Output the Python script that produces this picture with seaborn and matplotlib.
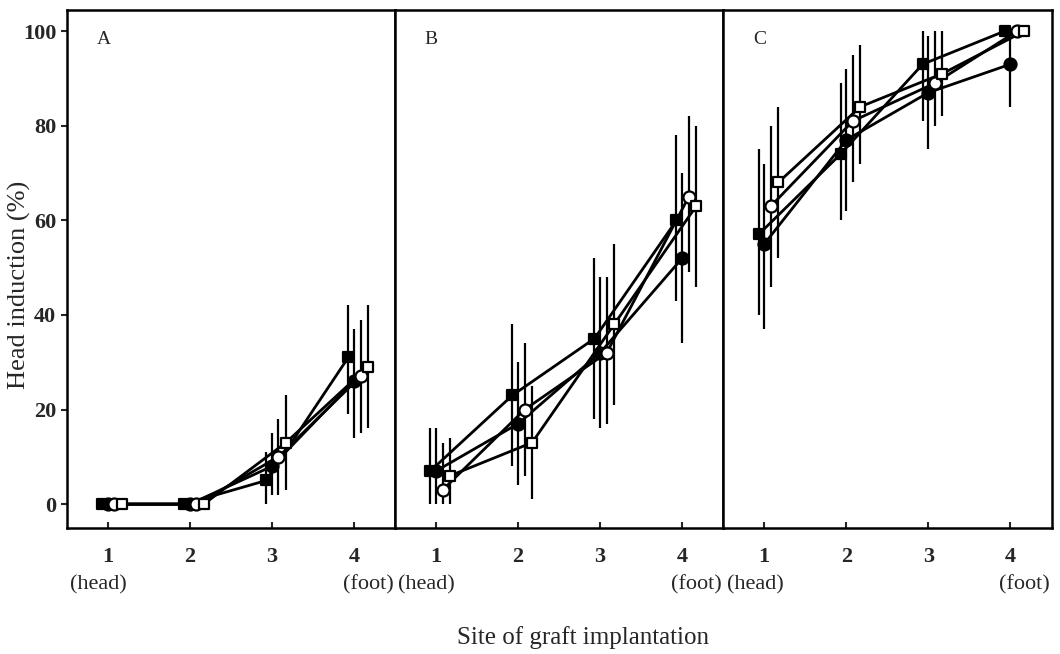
import numpy as np
import pandas as pd
import matplotlib
matplotlib.use('Agg')
import matplotlib.pyplot as plt
import seaborn as sns

# ── DATA ───────────────────────────────────────────────────────
sites = [1, 2, 3, 4]
panels = ['A', 'B', 'C']
series = ['filled_square', 'filled_circle', 'open_circle', 'open_square']

# panel A
a_fs = [0, 0, 5, 31]
a_fs_lo = [0, 0, 0, 19]
a_fs_hi = [0, 0, 11, 42]
a_fc = [0, 0, 8, 26]
a_fc_lo = [0, 0, 2, 14]
a_fc_hi = [0, 0, 15, 37]
a_oc = [0, 0, 10, 27]
a_oc_lo = [0, 0, 2, 15]
a_oc_hi = [0, 0, 18, 39]
a_os = [0, 0, 13, 29]
a_os_lo = [0, 0, 3, 16]
a_os_hi = [0, 0, 23, 42]

# panel B
b_fs = [7, 23, 35, 60]
b_fs_lo = [0, 8, 18, 43]
b_fs_hi = [16, 38, 52, 78]
b_fc = [7, 17, 32, 52]
b_fc_lo = [0, 4, 16, 34]
b_fc_hi = [16, 30, 48, 70]
b_oc = [3, 20, 32, 65]
b_oc_lo = [0, 6, 17, 49]
b_oc_hi = [13, 34, 48, 82]
b_os = [6, 13, 38, 63]
b_os_lo = [0, 1, 21, 46]
b_os_hi = [14, 25, 55, 80]

# panel C
c_fs = [57, 74, 93, 100]
c_fs_lo = [40, 60, 81, 100]
c_fs_hi = [75, 89, 100, 100]
c_fc = [55, 77, 87, 93]
c_fc_lo = [37, 62, 75, 84]
c_fc_hi = [72, 92, 99, 100]
c_oc = [63, 81, 89, 100]
c_oc_lo = [46, 68, 80, 100]
c_oc_hi = [80, 95, 100, 100]
c_os = [68, 84, 91, 100]
c_os_lo = [52, 72, 82, 100]
c_os_hi = [84, 97, 100, 100]

raw = {
    'A': [(a_fs, a_fs_lo, a_fs_hi), (a_fc, a_fc_lo, a_fc_hi),
          (a_oc, a_oc_lo, a_oc_hi), (a_os, a_os_lo, a_os_hi)],
    'B': [(b_fs, b_fs_lo, b_fs_hi), (b_fc, b_fc_lo, b_fc_hi),
          (b_oc, b_oc_lo, b_oc_hi), (b_os, b_os_lo, b_os_hi)],
    'C': [(c_fs, c_fs_lo, c_fs_hi), (c_fc, c_fc_lo, c_fc_hi),
          (c_oc, c_oc_lo, c_oc_hi), (c_os, c_os_lo, c_os_hi)],
}

rows = []
for p in panels:
    for name, (vals, lo, hi) in zip(series, raw[p]):
        for s, v, l, h in zip(sites, vals, lo, hi):
            rows.append({'panel': p, 'series': name, 'site': s,
                         'value': v, 'lo': l, 'hi': h})
df = pd.DataFrame(rows)

# ── STYLE ──────────────────────────────────────────────────────
sns.set_style('ticks')
plt.rcParams['font.family'] = ['Liberation Serif', 'DejaVu Serif']

offset = {'filled_square': -0.07, 'filled_circle': 0.0,
          'open_circle': 0.08, 'open_square': 0.17}
marker = {'filled_square': 's', 'filled_circle': 'o',
          'open_circle': 'o', 'open_square': 's'}
face = {'filled_square': 'black', 'filled_circle': 'black',
        'open_circle': 'white', 'open_square': 'white'}
df['xpos'] = df['site'] + df['series'].map(offset)

fig, axes = plt.subplots(1, 3, sharey=True, figsize=(10.6, 6.54), dpi=100)
fig.subplots_adjust(left=0.063, right=0.992, top=0.985, bottom=0.193, wspace=0)

for ax, p in zip(axes, panels):
    sub = df[df['panel'] == p]
    bars = sub[sub['hi'] > sub['lo']]
    ax.vlines(bars['xpos'], bars['lo'], bars['hi'], color='black', lw=1.6, zorder=1)
    for name in series:
        s = sub[sub['series'] == name]
        sns.lineplot(data=s, x='xpos', y='value', color='black', lw=2.0,
                     errorbar=None, ax=ax, zorder=2)
    for name in series:
        s = sub[sub['series'] == name]
        sns.scatterplot(data=s, x='xpos', y='value', marker=marker[name],
                        s=75 if marker[name] == 'o' else 62,
                        facecolor=face[name], edgecolor='black', linewidth=1.6,
                        ax=ax, zorder=3)

    ax.set_xlim(0.5, 4.5)
    ax.set_ylim(-5, 104.5)
    ax.set_xticks(sites)
    ax.set_xticklabels([str(s) for s in sites], fontsize=16, fontweight='bold')
    ax.tick_params(axis='x', direction='in', length=4, width=1.5, pad=14)
    ax.set_xlabel('')
    ax.set_ylabel('')
    for sp in ax.spines.values():
        sp.set_visible(True)
        sp.set_linewidth(1.8)
        sp.set_color('black')

    ax.text(0.09, 0.942, p, transform=ax.transAxes, fontsize=14,
            ha='left', va='center')
    ax.text(0.01, -0.11, '(head)', transform=ax.transAxes, fontsize=16,
            ha='left', va='center')
    ax.text(0.995, -0.11, '(foot)', transform=ax.transAxes, fontsize=16,
            ha='right', va='center')

axes[0].set_yticks([0, 20, 40, 60, 80, 100])
axes[0].set_yticklabels(['0', '20', '40', '60', '80', '100'], fontsize=16,
                        fontweight='bold')
axes[0].tick_params(axis='y', direction='out', length=4, width=1.5)
for ax in axes[1:]:
    ax.tick_params(axis='y', left=False)

fig.text(0.018, 0.565, 'Head induction (%)', fontsize=19, rotation=90,
         ha='center', va='center')
fig.text(0.55, 0.025, 'Site of graft implantation', fontsize=18,
         ha='center', va='center')

plt.savefig('out.png', dpi=100)
